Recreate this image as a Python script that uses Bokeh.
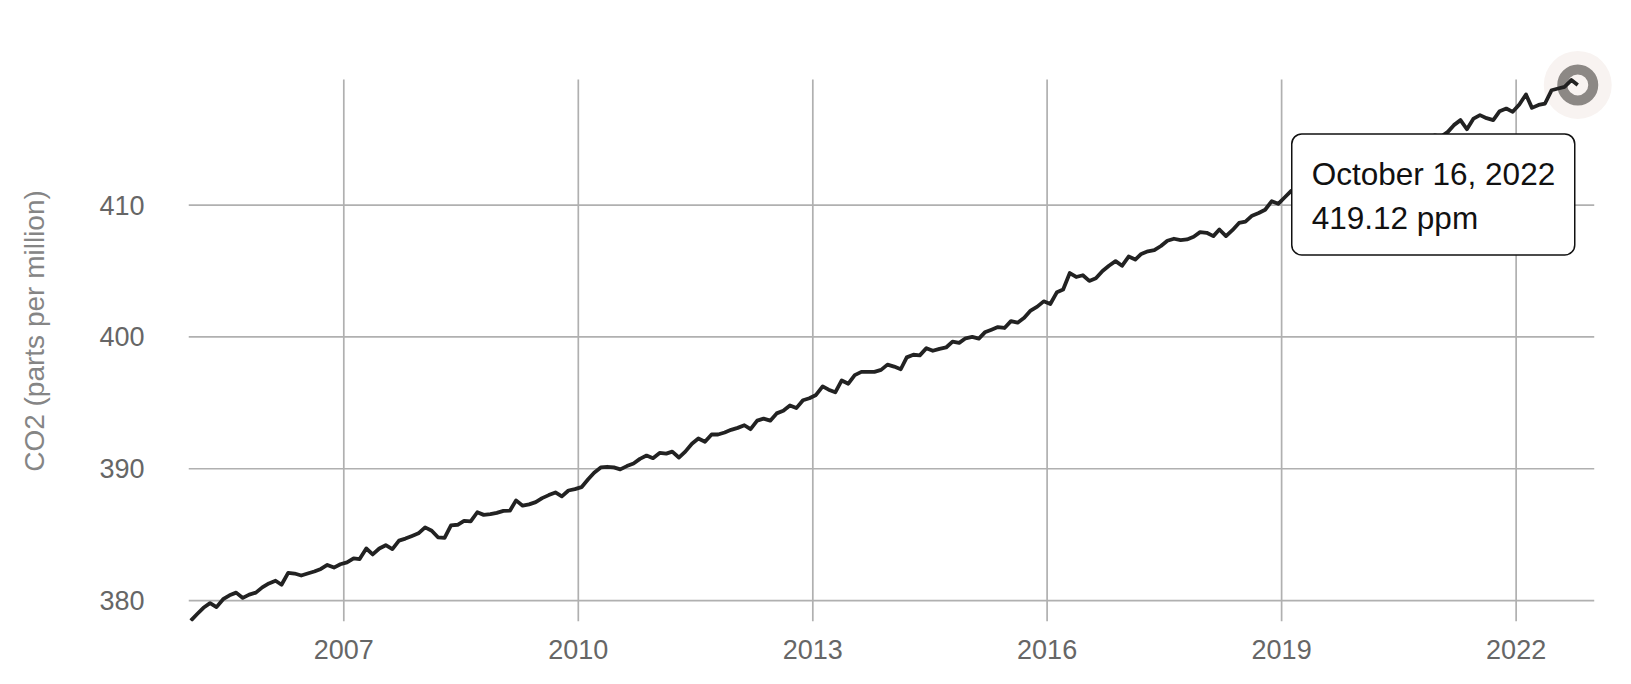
from datetime import datetime, timedelta
from bokeh.plotting import figure
from bokeh.models import (FixedTicker, DatetimeTickFormatter, BoxAnnotation, Label,
                          Range1d)
from bokeh.embed import file_html
from bokeh.resources import INLINE

# ---------------- data (monthly CO2, ppm; 16th of each month) ----------------
co2_2005 = [378.48, 379.0, 379.45, 379.8, 379.5, 380.1, 380.4, 380.6, 380.2, 380.45, 380.6, 381.0]
co2_2006 = [381.3, 381.5, 381.2, 382.1, 382.05, 381.9, 382.05, 382.2, 382.4, 382.7, 382.5, 382.75]
co2_2007 = [382.9, 383.2, 383.15, 383.95, 383.5, 383.95, 384.2, 383.9, 384.55, 384.7, 384.9, 385.1]
co2_2008 = [385.55, 385.3, 384.8, 384.75, 385.7, 385.75, 386.05, 386.0, 386.7, 386.5, 386.55, 386.65]
co2_2009 = [386.8, 386.83, 387.6, 387.2, 387.3, 387.47, 387.77, 388.0, 388.2, 387.9, 388.35, 388.45]
co2_2010 = [388.6, 389.2, 389.7, 390.1, 390.15, 390.1, 389.95, 390.2, 390.4, 390.75, 391.0, 390.8]
co2_2011 = [391.2, 391.15, 391.3, 390.85, 391.3, 391.9, 392.3, 392.05, 392.6, 392.6, 392.75, 392.95]
co2_2012 = [393.1, 393.3, 393.0, 393.65, 393.8, 393.65, 394.2, 394.4, 394.8, 394.6, 395.2, 395.35]
co2_2013 = [395.6, 396.25, 396.0, 395.8, 396.7, 396.45, 397.1, 397.35, 397.35, 397.35, 397.5, 397.9]
co2_2014 = [397.75, 397.55, 398.45, 398.65, 398.6, 399.15, 398.95, 399.1, 399.2, 399.65, 399.55, 399.9]
co2_2015 = [400.0, 399.87, 400.35, 400.55, 400.75, 400.68, 401.2, 401.08, 401.45, 402.0, 402.3, 402.7]
co2_2016 = [402.5, 403.4, 403.6, 404.85, 404.55, 404.68, 404.25, 404.45, 405.0, 405.4, 405.75, 405.4]
co2_2017 = [406.1, 405.87, 406.3, 406.5, 406.58, 406.9, 407.3, 407.45, 407.35, 407.4, 407.6, 407.95]
co2_2018 = [407.9, 407.65, 408.15, 407.65, 408.1, 408.65, 408.75, 409.2, 409.4, 409.65, 410.3, 410.1]
co2_2019 = [410.6, 411.1, 411.3, 411.2, 411.6, 411.9, 412.0, 412.2, 412.5, 412.4, 412.8, 413.0]
co2_2020 = [413.3, 413.7, 413.6, 413.9, 414.3, 414.1, 414.4, 414.6, 414.9, 414.8, 415.0, 415.3]
co2_2021 = [415.2, 415.56, 416.07, 416.45, 415.76, 416.57, 416.83, 416.6, 416.45, 417.13, 417.33, 417.08]
co2_2022 = [417.64, 418.4, 417.38, 417.6, 417.71, 418.72, 418.85, 418.98, 419.49, 419.12]

start_year = 2005
tick_years = [2007, 2010, 2013, 2016, 2019, 2022]
y_ticks = [380, 390, 400, 410]
y_title = "CO2 (parts per million)"

values = (co2_2005 + co2_2006 + co2_2007 + co2_2008 + co2_2009 + co2_2010 + co2_2011 +
          co2_2012 + co2_2013 + co2_2014 + co2_2015 + co2_2016 + co2_2017 + co2_2018 +
          co2_2019 + co2_2020 + co2_2021 + co2_2022)
dates = [datetime(start_year + k // 12, k % 12 + 1, 16) for k in range(len(values))]

EPOCH = datetime(1970, 1, 1)
def ms(d):
    return (d - EPOCH).total_seconds() * 1000.0

# ---------------- layout constants (pixels) ----------------
PX_PER_YEAR = 78.15
PX_PER_PPM = 13.18
MS_PER_YEAR = 365.2425 * 86400000.0
def px_to_ms(px):
    return px / PX_PER_YEAR * MS_PER_YEAR
def px_to_ppm(px):
    return px / PX_PER_PPM

FRAME_W, FRAME_H = 1429, 581
x_start = ms(datetime(2007, 1, 1)) - px_to_ms(155.3)
x_end = x_start + px_to_ms(FRAME_W)
y_start = 378.41
y_end = y_start + px_to_ppm(FRAME_H)
grid_x_end = ms(datetime(2023, 1, 1))
grid_y_end = 419.53

p = figure(width=1623, height=676, x_axis_type="datetime", output_backend="svg",
           toolbar_location=None, x_range=Range1d(x_start, x_end),
           y_range=Range1d(y_start, y_end),
           min_border_left=188, min_border_right=6, min_border_top=40, min_border_bottom=55)
p.outline_line_color = None
p.background_fill_color = "white"
p.border_fill_color = "white"
p.grid.visible = False

tick_ms = [ms(datetime(y, 1, 1)) for y in tick_years]

# grid lines (drawn from the tick arrays)
grid_color = "#b0b0b0"
p.segment(x0=tick_ms, y0=[y_start] * len(tick_ms), x1=tick_ms, y1=[grid_y_end] * len(tick_ms),
          line_color=grid_color, line_width=1.7)
p.segment(x0=[x_start] * len(y_ticks), y0=y_ticks, x1=[grid_x_end] * len(y_ticks), y1=y_ticks,
          line_color=grid_color, line_width=1.7)

last_ms = ms(dates[-1])
last_v = values[-1]

# highlight marker
p.scatter([last_ms], [last_v], size=68, fill_color="#f8f3f1", line_color=None)
p.scatter([last_ms], [last_v], size=31, fill_color=None, line_color="#8c8885", line_width=10)

p.line([ms(d) for d in dates], values, line_color="#222222", line_width=3.8, line_join="round")

# axes
FONT = "Liberation Sans"
for ax in (p.xaxis[0], p.yaxis[0]):
    ax.axis_line_color = None
    ax.major_tick_line_color = None
    ax.minor_tick_line_color = None
    ax.major_tick_out = 0
    ax.major_tick_in = 0
    ax.major_label_text_font = FONT
    ax.major_label_text_font_size = "27px"
    ax.major_label_text_color = "#666666"

p.xaxis.ticker = FixedTicker(ticks=tick_ms)
p.xaxis.formatter = DatetimeTickFormatter(years="%Y", months="%Y", days="%Y", hours="%Y",
                                          minutes="%Y", seconds="%Y", milliseconds="%Y")
p.xaxis.major_label_standoff = 18
p.yaxis.ticker = FixedTicker(ticks=y_ticks)
p.yaxis.major_label_standoff = 44
p.yaxis.axis_label = y_title
p.yaxis.axis_label_text_font = FONT
p.yaxis.axis_label_text_font_size = "28px"
p.yaxis.axis_label_text_font_style = "normal"
p.yaxis.axis_label_text_color = "#858585"
p.yaxis.axis_label_standoff = 46

# tooltip
box = BoxAnnotation(left=last_ms - px_to_ms(286), right=last_ms - px_to_ms(3),
                    top=last_v - px_to_ppm(49), bottom=last_v - px_to_ppm(170),
                    fill_color="white", fill_alpha=1.0, line_color="#111111",
                    line_width=1.5, line_alpha=1.0, border_radius=10)
p.add_layout(box)
date_text = dates[-1].strftime("%B ") + str(dates[-1].day) + dates[-1].strftime(", %Y")
p.add_layout(Label(x=last_ms, y=last_v, x_offset=-266, y_offset=-89.0, text=date_text,
                   text_baseline="alphabetic", text_font=FONT, text_font_size="31.5px",
                   text_color="#111111"))
p.add_layout(Label(x=last_ms, y=last_v, x_offset=-266, y_offset=-133.0, text=f"{last_v:.2f} ppm",
                   text_baseline="alphabetic", text_font=FONT, text_font_size="31.5px",
                   text_color="#111111"))

open("out.html", "w").write(file_html(p, INLINE))
